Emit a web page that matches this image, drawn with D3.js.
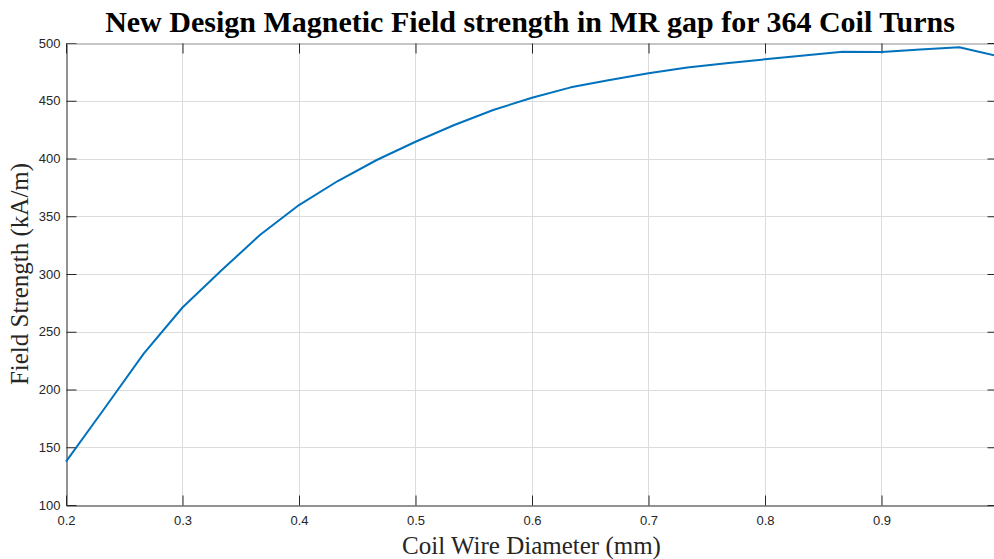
<!DOCTYPE html>
<html>
<head>
<meta charset="utf-8">
<script src="https://cdn.jsdelivr.net/npm/d3@7"></script>
<style>
  html, body { margin: 0; padding: 0; background: #fff; }
  svg { display: block; }
</style>
</head>
<body>
<svg id="chart" width="994" height="559"></svg>
<script>
// Coil wire diameter (mm) and the resulting field strength (kA/m)
const diameters = [0.2, 0.2333, 0.2667, 0.3, 0.3333, 0.3667, 0.4, 0.4333, 0.4667, 0.5,
  0.5333, 0.5667, 0.6, 0.6333, 0.6667, 0.7, 0.7333, 0.7667, 0.8, 0.8333,
  0.8667, 0.9, 0.9333, 0.9667, 1.0];
const fieldStrength = [137.5, 184, 231, 271, 303, 334, 359.7, 380.5, 398.7, 414.5,
  429, 442, 452.6, 461.6, 468, 473.9, 478.8, 482.4, 485.9, 489.2,
  492.5, 492.2, 494.3, 496.3, 488.6];
const xTicks = [0.2, 0.3, 0.4, 0.5, 0.6, 0.7, 0.8, 0.9];
const yTicks = [100, 150, 200, 250, 300, 350, 400, 450, 500];

const titleText = "New Design Magnetic Field strength in MR gap for 364 Coil Turns";
const xLabel = "Coil Wire Diameter (mm)";
const yLabel = "Field Strength (kA/m)";

const svg = d3.select("#chart");
const plotLeft = 66, plotRight = 998, plotTop = 43, plotBottom = 505;

const x = d3.scaleLinear().domain([0.2, 1.0]).range([plotLeft, plotRight]);
const y = d3.scaleLinear().domain([100, 500]).range([plotBottom, plotTop]);

const axisColor = "#262626";
const tickFont = "Liberation Sans, Arial, sans-serif";
const serif = "Liberation Serif, Times New Roman, serif";

// grid
const grid = svg.append("g").attr("stroke", "#dcdcdc").attr("stroke-width", 1);
grid.selectAll("line.gx").data(xTicks.slice(1)).join("line")
  .attr("x1", d => Math.round(x(d)) + 0.5).attr("x2", d => Math.round(x(d)) + 0.5)
  .attr("y1", plotTop).attr("y2", plotBottom);
grid.selectAll("line.gy").data(yTicks.slice(1, -1)).join("line")
  .attr("y1", d => Math.round(y(d)) + 0.5).attr("y2", d => Math.round(y(d)) + 0.5)
  .attr("x1", plotLeft).attr("x2", plotRight);

// axes with inward ticks
const tickLen = 10;
const bottomAxis = svg.append("g").attr("transform", `translate(0,${plotBottom + 0.5})`)
  .call(d3.axisBottom(x).tickValues(xTicks).tickFormat(d3.format(".1f")).tickSizeInner(-tickLen).tickSizeOuter(0).tickPadding(10));
const leftAxis = svg.append("g").attr("transform", `translate(${plotLeft + 0.5},0)`)
  .call(d3.axisLeft(y).tickValues(yTicks).tickSizeInner(-tickLen).tickSizeOuter(0).tickPadding(6));
const topAxis = svg.append("g").attr("transform", `translate(0,${plotTop + 0.5})`)
  .call(d3.axisTop(x).tickValues(xTicks).tickFormat("").tickSizeInner(-tickLen).tickSizeOuter(0));
const rightAxis = svg.append("g").attr("transform", `translate(${plotRight - 0.5},0)`)
  .call(d3.axisRight(y).tickValues(yTicks).tickFormat("").tickSizeInner(-tickLen).tickSizeOuter(0));

[bottomAxis, leftAxis, topAxis, rightAxis].forEach(g => {
  g.attr("font-family", tickFont).attr("font-size", 13);
  g.select(".domain").attr("stroke", axisColor).attr("stroke-width", 1);
  g.selectAll(".tick line").attr("stroke", axisColor);
  g.selectAll(".tick text").attr("fill", axisColor);
});
topAxis.select(".domain").attr("stroke", "#8c8c8c");
rightAxis.select(".domain").attr("stroke", "#8c8c8c");

// data line
const line = d3.line().x((d, i) => x(diameters[i])).y(d => y(d));
svg.append("path").datum(fieldStrength)
  .attr("fill", "none").attr("stroke", "#0072BD").attr("stroke-width", 2)
  .attr("stroke-linejoin", "round")
  .attr("d", line);

// title and labels
svg.append("text").attr("x", 530).attr("y", 32).attr("text-anchor", "middle")
  .attr("font-family", serif).attr("font-weight", "bold").attr("font-size", 30)
  .attr("fill", "#000").text(titleText);
svg.append("text").attr("x", (plotLeft + plotRight) / 2 - 0.5).attr("y", 554).attr("text-anchor", "middle")
  .attr("font-family", serif).attr("font-size", 25).attr("fill", axisColor).text(xLabel);
svg.append("text").attr("transform", `translate(28,${(plotTop + plotBottom) / 2}) rotate(-90)`)
  .attr("text-anchor", "middle")
  .attr("font-family", serif).attr("font-size", 25).attr("fill", axisColor).text(yLabel);
</script>
</body>
</html>
